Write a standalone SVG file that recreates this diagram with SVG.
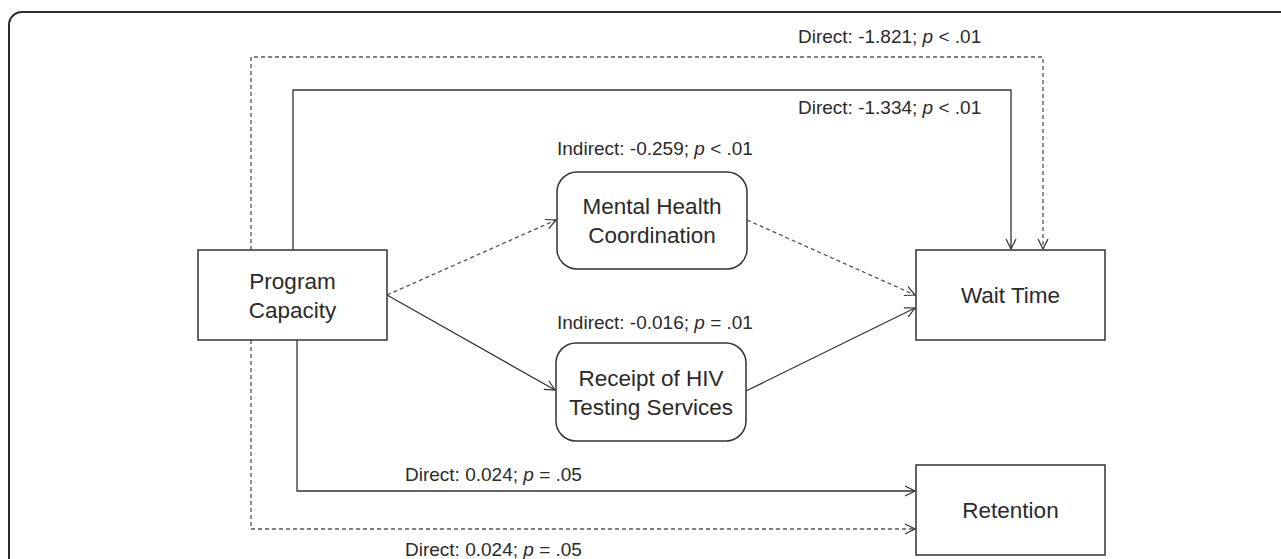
<svg xmlns="http://www.w3.org/2000/svg" width="1281" height="559" viewBox="0 0 1281 559">
  <defs>
    <marker id="arr" viewBox="0 0 12 12" refX="11" refY="6" markerWidth="12" markerHeight="12" markerUnits="userSpaceOnUse" orient="auto">
      <path d="M1,1 L11,6 L1,11" fill="none" stroke="#333" stroke-width="1.2"/>
    </marker>
  </defs>
  <style>
    .frame { fill: #fff; stroke: #2a2a2a; stroke-width: 2; }
    .box { fill: #fff; stroke: #333; stroke-width: 1.5; }
    .lbl { font-family: "Liberation Sans", Arial, sans-serif; font-size: 19px; fill: #2a2a2a; }
    .nt { font-family: "Liberation Sans", Arial, sans-serif; font-size: 22.5px; fill: #2a2a2a; text-anchor: middle; }
    .c { fill: none; stroke: #333; stroke-width: 1.3; }
    .d { stroke-dasharray: 4 3; stroke: #555; }
    .a { marker-end: url(#arr); }
  </style>
  <rect width="1281" height="559" fill="#fff"/>
  <rect class="frame" x="9" y="12" width="1300" height="600" rx="13"/>

  <g id="connectors">
    <path class="c d a" d="M251,250 V57 H1043 V249"/>
    <path class="c a" d="M293,250 V90 H1011 V249"/>
    <path class="c a" d="M297,340 V491 H915"/>
    <path class="c d a" d="M251,340 V529 H915"/>
    <path class="c d a" d="M387,295 L556,220"/>
    <path class="c a" d="M387,295 L555,390"/>
    <path class="c d a" d="M747,220 L915,295"/>
    <path class="c a" d="M746,391 L915,308"/>
  </g>

  <g id="labels">
    <text class="lbl" x="798" y="43">Direct: -1.821; <tspan font-style="italic">p</tspan> &lt; .01</text>
    <text class="lbl" x="798" y="114">Direct: -1.334; <tspan font-style="italic">p</tspan> &lt; .01</text>
    <text class="lbl" x="557" y="155">Indirect: -0.259; <tspan font-style="italic">p</tspan> &lt; .01</text>
    <text class="lbl" x="557" y="329">Indirect: -0.016; <tspan font-style="italic">p</tspan> = .01</text>
    <text class="lbl" x="405" y="481">Direct: 0.024; <tspan font-style="italic">p</tspan> = .05</text>
    <text class="lbl" x="405" y="556">Direct: 0.024; <tspan font-style="italic">p</tspan> = .05</text>
  </g>

  <g id="program-capacity">
    <rect class="box" x="198" y="250" width="189" height="90"/>
    <text class="nt" x="292.5" y="289">Program</text>
    <text class="nt" x="292.5" y="318">Capacity</text>
  </g>

  <g id="mental-health">
    <rect class="box" x="557" y="172" width="190" height="97" rx="20"/>
    <text class="nt" x="652" y="214">Mental Health</text>
    <text class="nt" x="652" y="243">Coordination</text>
  </g>

  <g id="hiv-testing">
    <rect class="box" x="556" y="343" width="190" height="98" rx="20"/>
    <text class="nt" x="651" y="386">Receipt of HIV</text>
    <text class="nt" x="651" y="415">Testing Services</text>
  </g>

  <g id="wait-time">
    <rect class="box" x="916" y="250" width="189" height="90"/>
    <text class="nt" x="1010.5" y="303">Wait Time</text>
  </g>

  <g id="retention">
    <rect class="box" x="916" y="465" width="189" height="90"/>
    <text class="nt" x="1010.5" y="518">Retention</text>
  </g>
</svg>
